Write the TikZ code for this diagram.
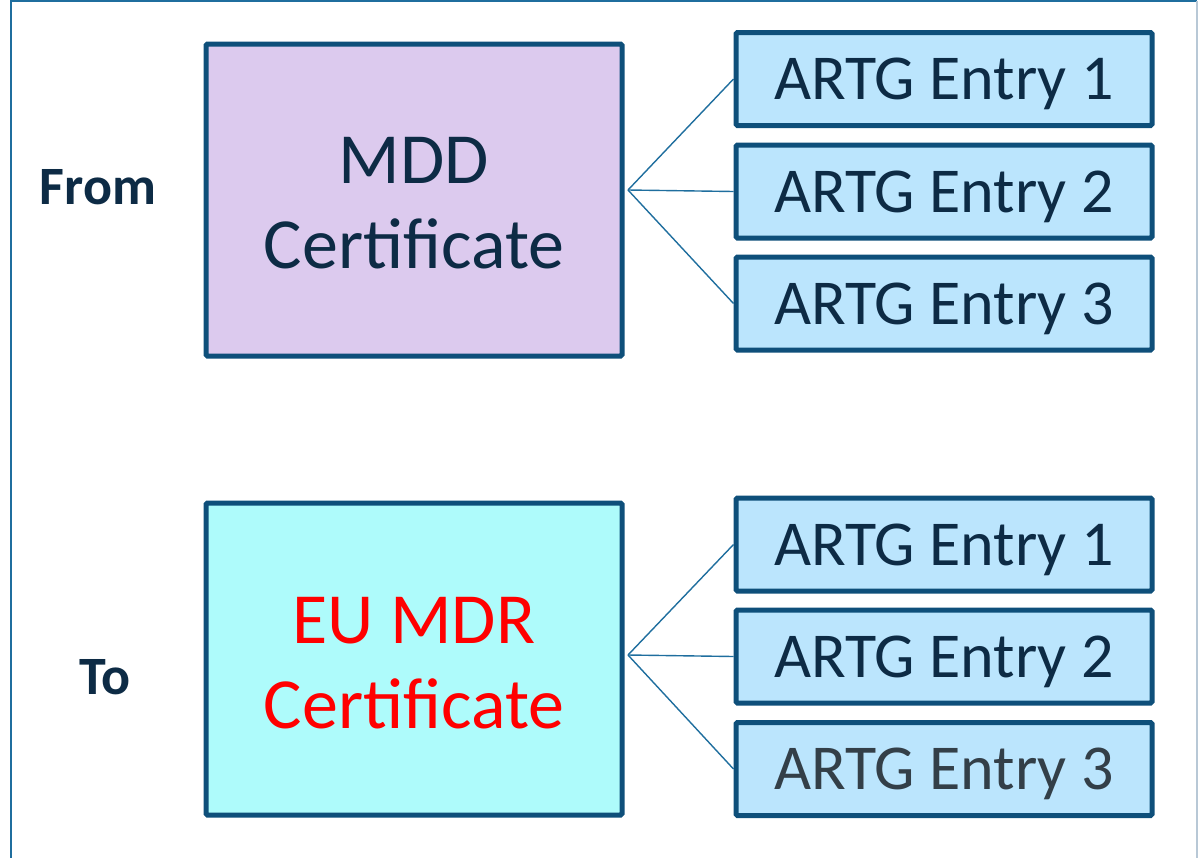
\documentclass[tikz,border=0pt]{standalone}
\usepackage{fontspec}
\setmainfont{Carlito}
\definecolor{frameblue}{HTML}{1F6E9E}
\definecolor{framegrey}{HTML}{B8C8D6}
\definecolor{boxedge}{HTML}{0E4F7A}
\definecolor{ink}{HTML}{0D2B45}
\definecolor{inkgrey}{HTML}{333F48}
\definecolor{lilac}{HTML}{DCCAEE}
\definecolor{aqua}{HTML}{AEFBFB}
\definecolor{skyblue}{HTML}{BBE5FD}
\definecolor{certred}{HTML}{FF0000}
\tikzset{
  x=1pt, y=-1pt,
  certbox/.style={draw=boxedge, line width=5pt, rounded corners=1.5pt,
    minimum width=416pt, minimum height=312pt, inner sep=0pt,
    align=center, font=\fontsize{72}{85}\selectfont, text=ink},
  certtext/.style={align=center, font=\fontsize{72}{85}\selectfont, text=ink, inner sep=0pt},
  entrybox/.style={draw=boxedge, line width=5pt, rounded corners=1.5pt, fill=skyblue,
    minimum width=416pt, minimum height=93pt, inner sep=0pt, text depth=0pt,
    font=\fontsize{64}{74}\selectfont, text=ink},
  sidelabel/.style={font=\fontsize{54}{62}\selectfont\bfseries, text=ink},
  link/.style={draw=frameblue, line width=1.4pt}
}
\begin{document}
\begin{tikzpicture}
\useasboundingbox (0,0) rectangle (1204,857);
% outer frame
\draw[frameblue, line width=2pt] (11,870) -- (11,1) -- (1197,1);
\draw[framegrey, line width=2pt] (1197,1) -- (1197,870);

% top row
\node[sidelabel] (from) at (98,187) {From};
\node[certbox, fill=lilac] (mdd) at (414,200) {};
\node[certtext] (mddtext) at (414,203) {MDD\\Certificate};
\node[entrybox] (a1) at (944,79) {ARTG Entry 1};
\node[entrybox] (a2) at (944,191.5) {ARTG Entry 2};
\node[entrybox] (a3) at (944,303.5) {ARTG Entry 3};
\coordinate (hubA) at (628,190);
\draw[link] (hubA) -- (a1.west);
\draw[link] (hubA) -- (a2.west);
\draw[link] (hubA) -- (a3.west);

% bottom row
\node[sidelabel] (to) at (105,677) {To};
\node[certbox, fill=aqua] (mdr) at (414,659) {};
\node[certtext, text=certred] (mdrtext) at (414,663) {EU MDR\\Certificate};
\node[entrybox] (b1) at (944,544.5) {ARTG Entry 1};
\node[entrybox] (b2) at (944,656.5) {ARTG Entry 2};
\node[entrybox, text=inkgrey] (b3) at (944,769) {ARTG Entry 3};
\coordinate (hubB) at (628,655);
\draw[link] (hubB) -- (b1.west);
\draw[link] (hubB) -- (b2.west);
\draw[link] (hubB) -- (b3.west);
\end{tikzpicture}
\end{document}
